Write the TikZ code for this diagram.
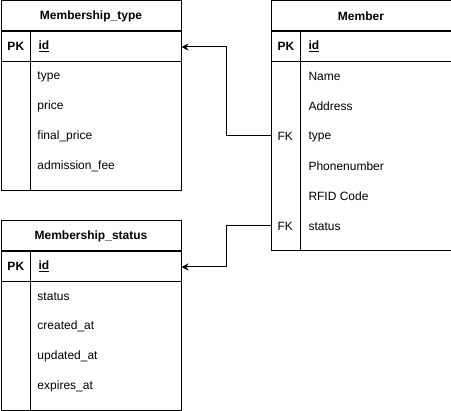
\documentclass[tikz,border=0pt]{standalone}
\usepackage{fontspec}
\setmainfont{Liberation Sans}
\usetikzlibrary{arrows.meta}

\begin{document}
\begin{tikzpicture}[x=1pt,y=-1pt,>={Stealth[length=7pt,width=7pt]},line width=1pt,font=\fontsize{12}{14}\selectfont]
  \tikzstyle{table}=[draw,anchor=north west,minimum width=180pt,inner sep=0pt]
  \tikzstyle{title}=[draw,anchor=north,minimum width=180pt,minimum height=30pt,inner sep=0pt,font=\fontsize{12}{14}\selectfont\bfseries]
  \tikzstyle{keyrow}=[draw,anchor=north,minimum width=180pt,minimum height=30pt,inner sep=0pt]
  \tikzstyle{field}=[anchor=west,inner sep=0pt]
  \tikzstyle{key}=[anchor=west,inner sep=0pt]
  \useasboundingbox (0,0) rectangle (451,411);

  % Membership_type
  \node[table,minimum height=190pt] (mtype) at (0.5,0.5) {};
  \node[title] (mtype-head) at (mtype.north) {Membership\_type};
  \node[keyrow] (mtype-pk) at (mtype-head.south) {};
  \draw ([xshift=30pt]mtype-head.south west) -- ([xshift=30pt]mtype.south west);
  \node[key,font=\fontsize{12}{14}\selectfont\bfseries] (mtype-k) at (7,46) {PK};
  \node[field,font=\fontsize{12}{14}\selectfont\bfseries] (mtype-id) at (38,46) {\underline{id}};
  \foreach \f [count=\i] in {type,price,final\_price,admission\_fee}
    \node[field] (mtype-f\i) at (37,46.5+30*\i) {\f};

  % Member
  \node[table,minimum height=250pt] (mem) at (270.5,0.5) {};
  \node[title] (mem-head) at (mem.north) {Member};
  \node[keyrow] (mem-pk) at (mem-head.south) {};
  \draw ([xshift=30pt]mem-head.south west) -- ([xshift=30pt]mem.south west);
  \node[key,font=\fontsize{12}{14}\selectfont\bfseries] (mem-k) at (277,46) {PK};
  \node[field,font=\fontsize{12}{14}\selectfont\bfseries] (mem-id) at (308,46) {\underline{id}};
  \foreach \f [count=\i] in {Name,Address,type,Phonenumber,RFID Code,status}
    \node[field] (mem-f\i) at (308,46.5+30*\i) {\f};
  \node[key] (mem-fk1) at (277,136.5) {FK};
  \node[key] (mem-fk2) at (277,226.5) {FK};

  % Membership_status
  \node[table,minimum height=190pt] (mstat) at (0.5,220.5) {};
  \node[title] (mstat-head) at (mstat.north) {Membership\_status};
  \node[keyrow] (mstat-pk) at (mstat-head.south) {};
  \draw ([xshift=30pt]mstat-head.south west) -- ([xshift=30pt]mstat.south west);
  \node[key,font=\fontsize{12}{14}\selectfont\bfseries] (mstat-k) at (7,266) {PK};
  \node[field,font=\fontsize{12}{14}\selectfont\bfseries] (mstat-id) at (38,266) {\underline{id}};
  \foreach \f [count=\i] in {status,created\_at,updated\_at,expires\_at}
    \node[field] (mstat-f\i) at (37,266.5+30*\i) {\f};

  % references
  \draw[->] ([yshift=1pt]mem.west |- mem-fk1) -- ++(-44,0) |- (mtype-pk.east);
  \draw[->] ([yshift=1pt]mem.west |- mem-fk2) -- ++(-44,0) |- (mstat-pk.east);
\end{tikzpicture}
\end{document}
